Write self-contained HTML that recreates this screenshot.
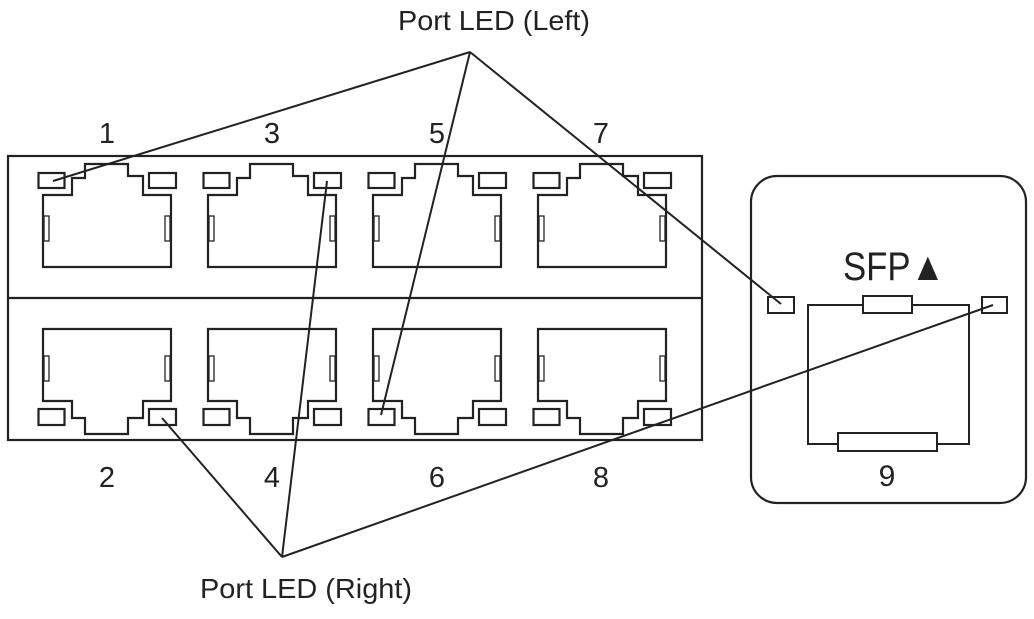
<!DOCTYPE html>
<html><head><style>
html,body{margin:0;padding:0;background:#fff;}
svg text{font-family:"Liberation Sans",sans-serif;fill:#222;}
</style></head><body>
<svg width="1034" height="614" viewBox="0 0 1034 614" xmlns="http://www.w3.org/2000/svg">
<defs>
<g id="top" fill="none" stroke="#222" stroke-width="2.2">
  <rect x="-4.5" y="173" width="26" height="15"/>
  <rect x="106" y="173" width="27" height="15"/>
  <path d="M0 267 V195 H29 V178 H42 V164 H85 V176 H100 V195 H128 V267 Z"/>
  <rect x="1" y="216" width="5" height="25" stroke-width="1.3"/>
  <rect x="122" y="216" width="5" height="25" stroke-width="1.3"/>
</g>
<g id="bot" fill="none" stroke="#222" stroke-width="2.2">
  <rect x="-4.5" y="409" width="26" height="16"/>
  <rect x="106" y="409" width="27" height="16"/>
  <path d="M0 329 V401 H29 V418 H42 V434 H85 V418 H100 V401 H128 V329 Z"/>
  <rect x="1" y="356" width="5" height="25" stroke-width="1.3"/>
  <rect x="122" y="356" width="5" height="25" stroke-width="1.3"/>
</g>
</defs>
<rect x="8" y="156" width="694" height="284" fill="none" stroke="#222" stroke-width="2.2"/>
<line x1="8" y1="298" x2="702" y2="298" stroke="#222" stroke-width="2.2"/>
<use href="#top" x="43"/><use href="#top" x="208"/><use href="#top" x="373"/><use href="#top" x="538"/>
<use href="#bot" x="43"/><use href="#bot" x="208"/><use href="#bot" x="373"/><use href="#bot" x="538"/>

<g font-size="29" text-anchor="middle">
<text x="107" y="143">1</text><text x="272" y="143">3</text><text x="437" y="143">5</text><text x="601" y="143">7</text>
<text x="107" y="487">2</text><text x="272" y="487">4</text><text x="437" y="487">6</text><text x="601" y="487">8</text>
</g>
<text x="398" y="30" font-size="28" textLength="192" lengthAdjust="spacingAndGlyphs">Port LED (Left)</text>
<text x="200" y="598" font-size="28" textLength="212" lengthAdjust="spacingAndGlyphs">Port LED (Right)</text>

<!-- SFP -->
<rect x="751" y="176" width="275" height="327" rx="26" fill="none" stroke="#222" stroke-width="2.2"/>
<text x="843" y="280" font-size="40" textLength="102" lengthAdjust="spacingAndGlyphs">SFP▲</text>
<g fill="none" stroke="#222" stroke-width="2">
<rect x="768" y="297" width="26" height="16"/>
<rect x="982" y="297" width="25" height="16"/>
<path d="M863 305 H808 V444 H838 M937 444 H969 V305 H912"/>
<rect x="863" y="296" width="49" height="17"/>
<rect x="838" y="433" width="99" height="18"/>
</g>
<text x="887" y="486" font-size="30" text-anchor="middle">9</text>

<g stroke="#222" stroke-width="2" fill="none">
<line x1="470" y1="52" x2="53" y2="181"/>
<line x1="470" y1="52" x2="381" y2="415"/>
<line x1="470" y1="52" x2="781" y2="304"/>
<line x1="282" y1="557" x2="162" y2="418"/>
<line x1="282" y1="557" x2="327" y2="181"/>
<line x1="282" y1="557" x2="993" y2="305"/>
</g>
</svg>
</body></html>
